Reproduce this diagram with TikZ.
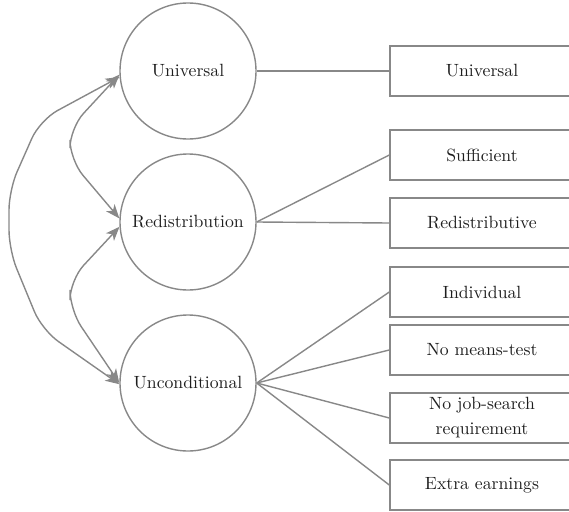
\documentclass[tikz,border=0pt]{standalone}
\usepackage{fontspec}
\setmainfont{lmroman10-regular.otf}
\usetikzlibrary{arrows.meta}
\definecolor{edge}{RGB}{136,136,136}
\definecolor{ink}{RGB}{30,30,30}
\begin{document}
\begin{tikzpicture}[x=1pt,y=-1pt,
  every node/.style={text=ink,font=\fontsize{17.7}{25}\selectfont},
  pillar/.style={circle,draw=edge,line width=1.4pt,minimum size=136pt,inner sep=0pt},
  trait/.style={rectangle,draw=edge,line width=1.4pt,minimum width=184pt,minimum height=50pt,inner sep=2pt,align=center},
  link/.style={draw=edge,line width=1.4pt},
  arr/.style={link,{Stealth[length=14pt,width=11pt,inset=4pt]}-{Stealth[length=14pt,width=11pt,inset=4pt]},rounded corners=20pt}]
\useasboundingbox (0,0) rectangle (569,511);
\clip (0,0) rectangle (569,511);

% three pillars
\node[pillar] (uni) at (188,71) {Universal};
\node[pillar] (red) at (188,222) {Redistribution};
\node[pillar] (unc) at (188,383) {Unconditional};

% traits
\node[trait] (tuni) at (482,71) {Universal};
\node[trait] (tsuf) at (482,155) {Sufficient};
\node[trait] (tred) at (482,223) {Redistributive};
\node[trait] (tind) at (482,292) {Individual};
\node[trait] (tmea) at (482,350) {No means-test};
\node[trait] (tjob) at (482,418) {No job-search\\requirement};
\node[trait] (tear) at (482,485) {Extra earnings};

% pillar-to-trait links
\draw[link] (uni.east) -- (tuni.west);
\draw[link] (red.east) -- (tsuf.west);
\draw[link] (red.east) -- (tred.west);
\foreach \t in {tind,tmea,tjob,tear}
  \draw[link] (unc.east) -- (\t.west);

% mutual relations between pillars
\coordinate (a1) at (70,128);
\coordinate (a2) at (70,160);
\coordinate (b1) at (70,280);
\coordinate (b2) at (70,310);
\coordinate (c1) at (40,120);
\coordinate (c2) at (9,190);
\coordinate (c3) at (9,250);
\coordinate (c4) at (42,330);
\draw[arr] (uni.183) -- (a1) -- (a2) -- (red.177);
\draw[arr] (red.184) -- (b1) -- (b2) -- (unc.180);
\draw[arr] (uni.185) -- (c1) -- (c2) -- (c3) -- (c4) -- (unc.181);
\end{tikzpicture}
\end{document}
